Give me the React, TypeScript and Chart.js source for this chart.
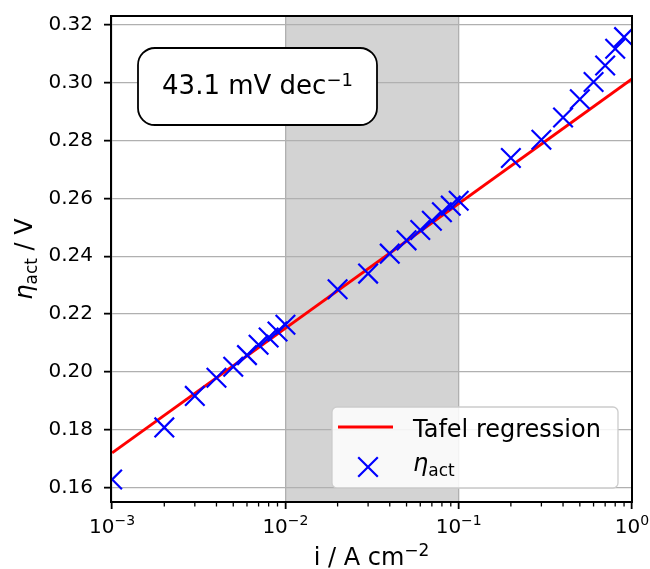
import React, { useEffect, useRef } from "react";
import { Chart, registerables } from "chart.js";

Chart.register(...registerables);

// ---- data ----
const currentDensity = [
  0.001, 0.002, 0.003, 0.004, 0.005, 0.006, 0.007, 0.008, 0.009,
  0.01, 0.02, 0.03, 0.04, 0.05, 0.06, 0.07, 0.08, 0.09,
  0.1, 0.2, 0.3, 0.4, 0.5, 0.6, 0.7, 0.8, 0.9,
];
const etaAct = [
  0.1628, 0.1808, 0.1917, 0.198, 0.2018, 0.2058, 0.2094, 0.2119, 0.214,
  0.2163, 0.2286, 0.234, 0.2409, 0.2455, 0.2491, 0.2523, 0.2552, 0.2575,
  0.2592, 0.274, 0.2803, 0.288, 0.2943, 0.3003, 0.306, 0.3118, 0.3158,
];
const tafelCurrent = [0.001, 1];
const tafelEta = [0.172, 0.3013];
const shadedRange = [0.01, 0.1];
const xTickValues = [0.001, 0.01, 0.1, 1];
const xTickExponents = ["\u22123", "\u22122", "\u22121", "0"];
const yTickValues = [0.16, 0.18, 0.2, 0.22, 0.24, 0.26, 0.28, 0.3, 0.32];
const slopeText = "43.1 mV dec";
const slopeExponent = "\u22121";
const legendLine = "Tafel regression";
const etaSymbol = "\u03B7";
const etaSub = "act";

const FF = "'DejaVu Sans'";

type Part = { t: string; size: number; italic?: boolean; dy?: number };

function fontOf(p: Part) {
  return `${p.italic ? "italic " : ""}${p.size}px ${FF}`;
}
function richWidth(ctx: CanvasRenderingContext2D, parts: Part[]) {
  let w = 0;
  for (const p of parts) {
    ctx.font = fontOf(p);
    w += ctx.measureText(p.t).width;
  }
  return w;
}
function drawRich(
  ctx: CanvasRenderingContext2D,
  parts: Part[],
  x: number,
  y: number,
  align: "left" | "center"
) {
  let cx = align === "center" ? x - richWidth(ctx, parts) / 2 : x;
  ctx.textAlign = "left";
  ctx.textBaseline = "alphabetic";
  for (const p of parts) {
    ctx.font = fontOf(p);
    ctx.fillText(p.t, cx, y + (p.dy || 0));
    cx += ctx.measureText(p.t).width;
  }
}

const decorPlugin = {
  id: "decor",
  beforeDraw(chart: any) {
    const { ctx, chartArea: a } = chart;
    const xs = chart.scales.x;
    const x0 = xs.getPixelForValue(shadedRange[0]);
    const x1 = xs.getPixelForValue(shadedRange[1]);
    ctx.save();
    ctx.fillStyle = "#d3d3d3";
    ctx.fillRect(x0, a.top, x1 - x0, a.bottom - a.top);
    ctx.restore();
  },
  afterDatasetsDraw(chart: any) {
    const { ctx, chartArea: a } = chart;
    const xs = chart.scales.x;
    ctx.save();
    ctx.fillStyle = "#000";
    ctx.strokeStyle = "#000";

    // spines
    ctx.lineWidth = 2;
    ctx.strokeRect(a.left, a.top, a.right - a.left, a.bottom - a.top);

    // minor ticks
    ctx.lineWidth = 1.3;
    for (let d = 0; d < xTickValues.length - 1; d++) {
      for (let k = 2; k <= 9; k++) {
        const px = xs.getPixelForValue(xTickValues[d] * k);
        ctx.beginPath();
        ctx.moveTo(px, a.bottom);
        ctx.lineTo(px, a.bottom + 4.5);
        ctx.stroke();
      }
    }

    // x tick labels
    xTickValues.forEach((v, i) => {
      const px = xs.getPixelForValue(v);
      drawRich(
        ctx,
        [
          { t: "10", size: 20 },
          { t: xTickExponents[i], size: 14, dy: -8 },
        ],
        px,
        533,
        "center"
      );
    });

    // x title
    drawRich(
      ctx,
      [
        { t: "i / A cm", size: 24 },
        { t: "\u22122", size: 17, dy: -9 },
      ],
      (a.left + a.right) / 2,
      565,
      "center"
    );

    // y title
    ctx.save();
    ctx.translate(32, (a.top + a.bottom) / 2);
    ctx.rotate(-Math.PI / 2);
    drawRich(
      ctx,
      [
        { t: etaSymbol, size: 24, italic: true },
        { t: etaSub, size: 17, dy: 5 },
        { t: " / V", size: 24 },
      ],
      0,
      0,
      "center"
    );
    ctx.restore();

    // annotation box
    ctx.beginPath();
    ctx.roundRect(138, 48, 239, 77, 17);
    ctx.fillStyle = "#ffffff";
    ctx.fill();
    ctx.lineWidth = 1.8;
    ctx.strokeStyle = "#000";
    ctx.stroke();
    ctx.fillStyle = "#000";
    drawRich(
      ctx,
      [
        { t: slopeText, size: 26 },
        { t: slopeExponent, size: 18, dy: -8 },
      ],
      257.5,
      94,
      "center"
    );

    // legend
    ctx.beginPath();
    ctx.roundRect(332, 407, 286, 81, 5);
    ctx.fillStyle = "rgba(255,255,255,0.85)";
    ctx.fill();
    ctx.lineWidth = 1.3;
    ctx.strokeStyle = "#cccccc";
    ctx.stroke();

    ctx.strokeStyle = "#ff0000";
    ctx.lineWidth = 3;
    ctx.beginPath();
    ctx.moveTo(338, 427);
    ctx.lineTo(393, 427);
    ctx.stroke();

    ctx.strokeStyle = "#0000ff";
    ctx.lineWidth = 2.2;
    const h = 9.8;
    ctx.beginPath();
    ctx.moveTo(368 - h, 467 - h);
    ctx.lineTo(368 + h, 467 + h);
    ctx.moveTo(368 - h, 467 + h);
    ctx.lineTo(368 + h, 467 - h);
    ctx.stroke();

    ctx.fillStyle = "#000";
    drawRich(ctx, [{ t: legendLine, size: 24 }], 413, 436.5, "left");
    drawRich(
      ctx,
      [
        { t: etaSymbol, size: 24, italic: true },
        { t: etaSub, size: 17, dy: 5 },
      ],
      413,
      471,
      "left"
    );

    ctx.restore();
  },
};

export default function App() {
  const ref = useRef<HTMLCanvasElement | null>(null);

  useEffect(() => {
    if (!ref.current) return;
    const chart = new Chart(ref.current, {
      type: "line",
      data: {
        datasets: [
          {
            label: "Tafel regression",
            data: tafelCurrent.map((x, i) => ({ x, y: tafelEta[i] })),
            borderColor: "#ff0000",
            backgroundColor: "#ff0000",
            borderWidth: 3,
            pointRadius: 0,
            fill: false,
            order: 2,
            clip: 0,
          } as any,
          {
            label: "eta_act",
            data: currentDensity.map((x, i) => ({ x, y: etaAct[i] })),
            showLine: false,
            pointStyle: "crossRot",
            pointRadius: 13.8,
            pointBorderWidth: 2.2,
            pointBorderColor: "#0000ff",
            borderColor: "#0000ff",
            backgroundColor: "#0000ff",
            order: 1,
            clip: 0,
          } as any,
        ],
      },
      options: {
        animation: false,
        responsive: false,
        devicePixelRatio: 1,
        layout: { padding: { left: 0, top: 12, right: 18, bottom: 0 } },
        plugins: {
          legend: { display: false },
          tooltip: { enabled: false },
        },
        scales: {
          x: {
            type: "logarithmic",
            min: 0.000985,
            max: 1.0,
            afterBuildTicks: (s: any) => {
              s.ticks = xTickValues.map((v) => ({ value: v }));
            },
            afterFit: (s: any) => {
              s.height = 67;
              s.paddingLeft = 0;
              s.paddingRight = 0;
            },
            ticks: { display: false },
            grid: {
              color: "#b0b0b0",
              lineWidth: 1.3,
              tickColor: "#000",
              tickWidth: 1.8,
              tickLength: 7,
            },
            border: { display: true, color: "#000", width: 2 },
          },
          y: {
            type: "linear",
            min: 0.155,
            max: 0.3231,
            afterBuildTicks: (s: any) => {
              s.ticks = yTickValues.map((v) => ({ value: v }));
            },
            afterFit: (s: any) => {
              s.width = 111;
              s.paddingTop = 0;
              s.paddingBottom = 0;
            },
            ticks: {
              color: "#000",
              font: { family: "DejaVu Sans", size: 20 },
              padding: 11,
              callback: (v: any) => Number(v).toFixed(2),
            },
            grid: {
              color: "#b0b0b0",
              lineWidth: 1.3,
              tickColor: "#000",
              tickWidth: 1.8,
              tickLength: 7,
            },
            border: { display: true, color: "#000", width: 2 },
          },
        },
      } as any,
      plugins: [decorPlugin as any],
    });
    return () => chart.destroy();
  }, []);

  return (
    <div
      style={{
        position: "absolute",
        left: 0,
        top: 0,
        width: 650,
        height: 569,
        background: "#ffffff",
      }}
    >
      <canvas ref={ref} width={650} height={569} style={{ width: 650, height: 569 }} />
    </div>
  );
}
